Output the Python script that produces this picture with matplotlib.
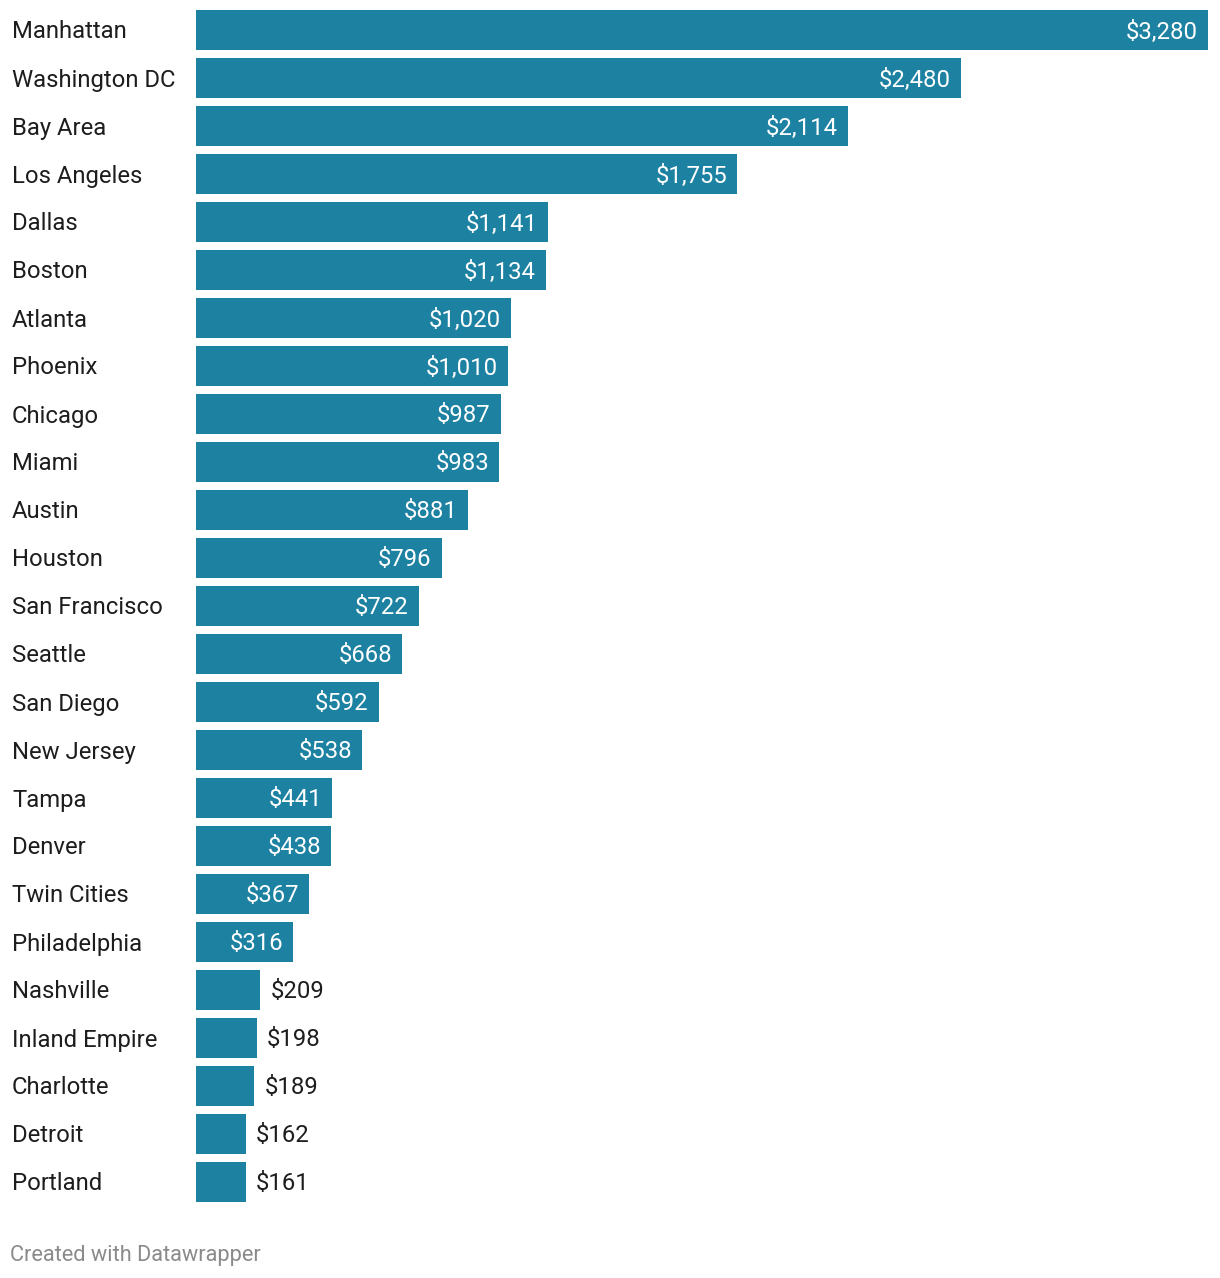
import matplotlib.pyplot as plt

plt.rcParams['font.family'] = ['Roboto', 'DejaVu Sans']

cities = ["Manhattan", "Washington DC", "Bay Area", "Los Angeles", "Dallas",
          "Boston", "Atlanta", "Phoenix", "Chicago", "Miami", "Austin",
          "Houston", "San Francisco", "Seattle", "San Diego", "New Jersey",
          "Tampa", "Denver", "Twin Cities", "Philadelphia", "Nashville",
          "Inland Empire", "Charlotte", "Detroit", "Portland"]
values = [3280, 2480, 2114, 1755, 1141, 1134, 1020, 1010, 987, 983, 881,
          796, 722, 668, 592, 538, 441, 438, 367, 316, 209, 198, 189, 162, 161]

W, H = 1220, 1278
fig = plt.figure(figsize=(W / 100, H / 100), dpi=100)

# axes placed in pixels: bars from x=196 to 1208, y=10 to 1202
left, right, top, bottom = 196, 1208, 10, 1202
ax = fig.add_axes([left / W, 1 - bottom / H, (right - left) / W, (bottom - top) / H])

bar_h = 40 / 48
ypos = list(range(len(cities)))
ax.barh(ypos, values, height=bar_h, color="#1d81a2")
ax.set_xlim(0, max(values))
ax.set_ylim(len(cities) - 1 + bar_h / 2, -bar_h / 2)
ax.axis("off")

fs = 17.2
for y, city, v in zip(ypos, cities, values):
    fig.text(12 / W, 1 - (top + 22 + 48 * y) / H, city, fontsize=fs,
             color="#1d1d1d", ha="left", va="center")
    label = f"${v:,}"
    if v >= 300:
        ax.annotate(label, xy=(v, y), xytext=(-10, -2), textcoords="offset pixels",
                    ha="right", va="center", color="white", fontsize=fs)
    else:
        ax.annotate(label, xy=(v, y), xytext=(10, -2), textcoords="offset pixels",
                    ha="left", va="center", color="#1d1d1d", fontsize=fs)

fig.text(10 / W, 1 - 1256 / H, "Created with Datawrapper", fontsize=15.7,
         color="#8a8a8a", ha="left", va="center")

fig.savefig("out.png", dpi=100)
